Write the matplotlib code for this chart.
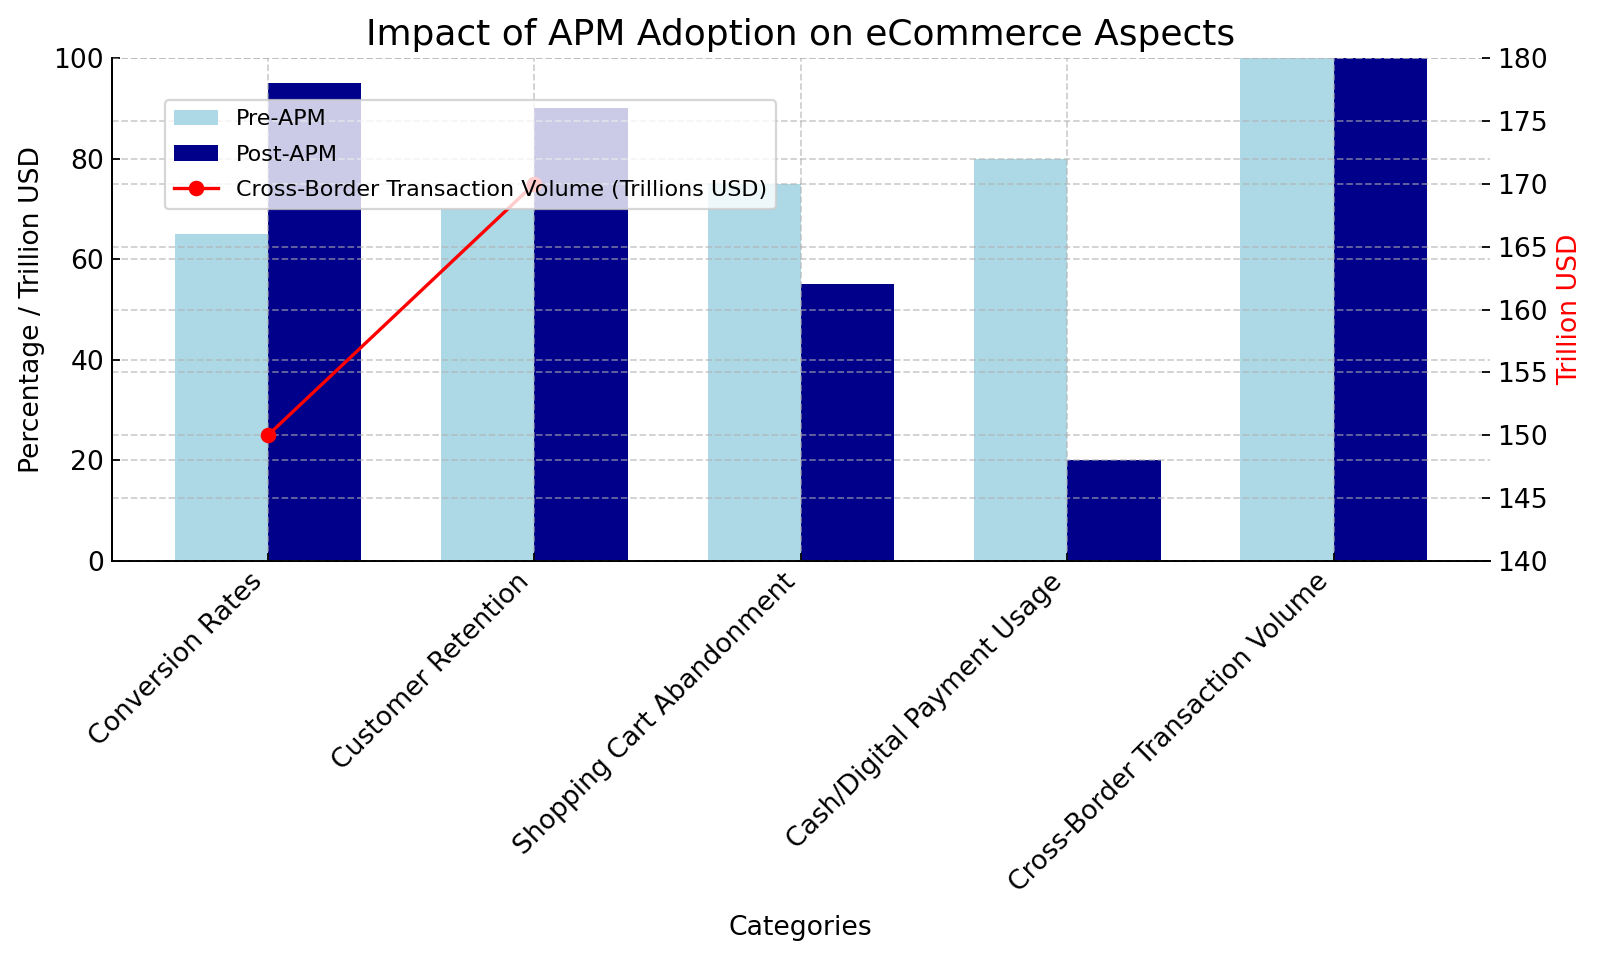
import numpy as np
import matplotlib
matplotlib.use("Agg")
import matplotlib.pyplot as plt

# data
categories = ['Conversion Rates', 'Customer Retention', 'Shopping Cart Abandonment',
              'Cash/Digital Payment Usage', 'Cross-Border Transaction Volume']
pre_apm = [65, 70, 75, 80, 150]
post_apm = [95, 90, 55, 20, 170]
cross_border = [150, 170]  # trillions USD

x = np.arange(len(categories))
width = 0.35

fig, ax1 = plt.subplots(figsize=(10, 5.9625), dpi=160)
fig.subplots_adjust(left=0.07, right=0.931, top=0.939, bottom=0.412)

b1 = ax1.bar(x - width / 2, pre_apm, width, label='Pre-APM', color='lightblue')
b2 = ax1.bar(x + width / 2, post_apm, width, label='Post-APM', color='darkblue')
ax1.set_ylim(0, 100)
ax1.set_xticks(x)
ax1.set_xticklabels(categories, rotation=45, ha='right', fontsize=12)
ax1.tick_params(axis='y', labelsize=12)
ax1.tick_params(direction='in')
ax1.set_xlabel('Categories', fontsize=12, labelpad=8)
ax1.set_ylabel('Percentage / Trillion USD', fontsize=12)
ax1.set_title('Impact of APM Adoption on eCommerce Aspects', fontsize=16.2)
ax1.grid(True, linestyle='--', color='#b0b0b0', alpha=0.6)

ax2 = ax1.twinx()
ln, = ax2.plot(np.arange(len(cross_border)), cross_border, color='red', marker='o',
               label='Cross-Border Transaction Volume (Trillions USD)')
ax2.set_ylim(140, 180)
ax2.set_ylabel('Trillion USD', color='red', fontsize=12)
ax2.tick_params(axis='y', labelsize=12, direction='in')
ax2.grid(True, linestyle='--', color='#b0b0b0', alpha=0.6)

for ax in (ax1, ax2):
    ax.spines['top'].set_visible(False)
    ax.spines['right'].set_visible(False)

ax2.legend([b1, b2, ln], [b1.get_label(), b2.get_label(), ln.get_label()],
           loc='upper left', bbox_to_anchor=(0.0385, 0.9165), borderaxespad=0,
           fontsize=10, labelspacing=0.7)

fig.savefig('out.png')
